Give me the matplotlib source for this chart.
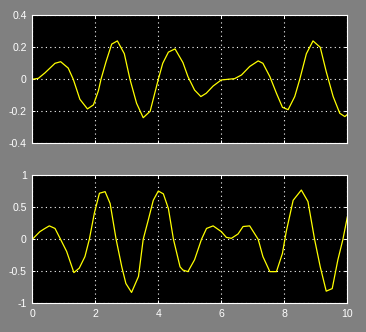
import matplotlib
matplotlib.use("Agg")
import matplotlib.pyplot as plt

plt.rcParams["font.family"] = ["Liberation Sans", "DejaVu Sans"]

# top signal
t1 = [0, 0.19, 0.4, 0.56, 0.72, 0.9, 1.14, 1.3, 1.51, 1.75, 1.94, 2.1, 2.18, 2.34, 2.52, 2.7,
      2.92, 3.1, 3.31, 3.52, 3.74, 4.0, 4.14, 4.32, 4.53, 4.78, 4.94, 5.15, 5.35, 5.52, 5.74,
      6.0, 6.21, 6.42, 6.64, 6.9, 7.17, 7.32, 7.54, 7.75, 7.94, 8.12, 8.33, 8.49, 8.7, 8.91,
      9.14, 9.33, 9.55, 9.76, 9.92, 10.0]
y1 = [0, 0.006, 0.04, 0.07, 0.10, 0.11, 0.07, 0, -0.125, -0.185, -0.16, -0.07, 0, 0.11, 0.22, 0.24,
      0.16, 0, -0.15, -0.24, -0.2, 0, 0.1, 0.17, 0.19, 0.105, 0.017, -0.067, -0.108, -0.0875, -0.042,
      -0.004, 0, 0.004, 0.027, 0.08, 0.115, 0.10, 0.017, -0.0875, -0.175, -0.19, -0.108, 0, 0.16, 0.24,
      0.2, 0.048, -0.108, -0.2125, -0.233, -0.22]

# bottom signal
t2 = [0, 0.24, 0.4, 0.54, 0.72, 0.88, 1.09, 1.32, 1.49, 1.67, 1.81, 1.97, 2.13, 2.31, 2.47, 2.66,
      2.84, 2.97, 3.15, 3.37, 3.52, 3.68, 3.84, 4.0, 4.16, 4.32, 4.48, 4.69, 4.78, 4.94, 5.15,
      5.37, 5.53, 5.74, 6.0, 6.16, 6.32, 6.53, 6.69, 6.9, 7.17, 7.32, 7.54, 7.75, 7.94, 8.06,
      8.28, 8.54, 8.75, 8.96, 9.14, 9.33, 9.52, 9.7, 9.86, 10.0]
y2 = [0, 0.12, 0.17, 0.21, 0.17, 0.016, -0.19, -0.52, -0.45, -0.27, 0, 0.41, 0.72, 0.745, 0.56, 0,
      -0.43, -0.69, -0.83, -0.58, 0, 0.30, 0.61, 0.755, 0.71, 0.48, 0, -0.43, -0.48, -0.505, -0.32,
      0, 0.17, 0.21, 0.12, 0.03, 0.016, 0.083, 0.2, 0.21, 0, -0.27, -0.505, -0.505, -0.22, 0.12,
      0.61, 0.77, 0.59, 0, -0.43, -0.81, -0.77, -0.32, 0, 0.35]

xticks = [0, 2, 4, 6, 8, 10]
yticks1 = [-0.4, -0.2, 0, 0.2, 0.4]
ylabels1 = ["-0.4", "-0.2", "0", "0.2", "0.4"]
yticks2 = [-1, -0.5, 0, 0.5, 1]
ylabels2 = ["-1", "-0.5", "0", "0.5", "1"]

fig = plt.figure(figsize=(3.66, 3.32), dpi=100, facecolor="#808080")
ax1 = fig.add_axes([0.0883, 0.5684, 0.8607, 0.3855])
ax2 = fig.add_axes([0.0883, 0.0864, 0.8607, 0.3855])


def style(ax, yt, yl, show_x):
    ax.set_facecolor("black")
    ax.set_xlim(0, 10)
    ax.set_ylim(yt[0], yt[-1])
    ax.set_xticks(xticks)
    ax.set_yticks(yt)
    ax.set_yticklabels(yl)
    if show_x:
        ax.set_xticklabels([str(v) for v in xticks])
    else:
        ax.set_xticklabels([])
    for s in ax.spines.values():
        s.set_color("white")
        s.set_linewidth(0.8)
    ax.tick_params(direction="in", length=2.5, width=0.7, colors="white",
                   labelsize=7.6, top=True, right=True, pad=4)
    ax.grid(True, color="white", linestyle=(0, (1, 3)), linewidth=0.8)


ax1.plot(t1, y1, color="yellow", linewidth=0.9)
ax2.plot(t2, y2, color="yellow", linewidth=0.9)
style(ax1, yticks1, ylabels1, False)
style(ax2, yticks2, ylabels2, True)

fig.savefig("out.png", dpi=100, facecolor=fig.get_facecolor())
